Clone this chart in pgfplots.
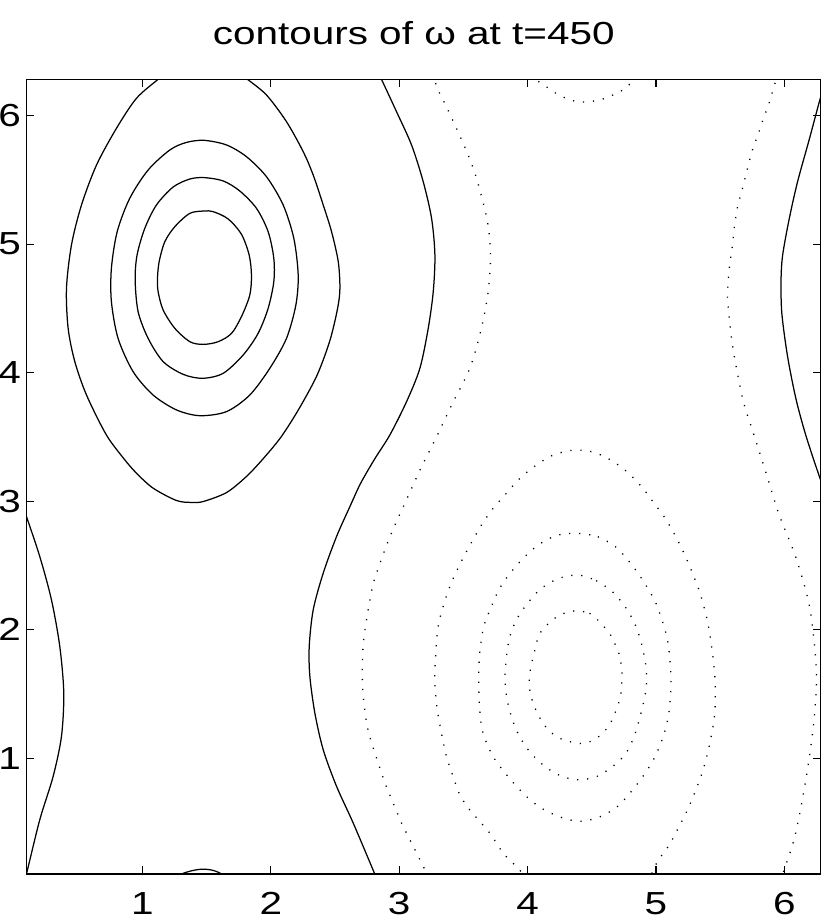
\documentclass[border=0pt]{standalone}
\usepackage{fontspec}
\setmainfont[FakeStretch=1.27]{Liberation Sans}
\usepackage{pgfplots}
\pgfplotsset{compat=1.18}

\begin{document}
\begin{tikzpicture}
\begin{axis}[
    scale only axis, width=794bp, height=794.7bp,
    xmin=0.0982, xmax=6.2832, ymin=0.0982, ymax=6.2832,
    xtick={1,2,3,4,5,6}, ytick={1,2,3,4,5,6},
    tick align=inside, major tick length=7.5bp,
    axis line style={line width=1.1bp},
    every tick/.style={line width=1.1bp, black},
    /pgf/number format/assume math mode=true,
    tick label style={font=\fontsize{32}{38}\selectfont},
    xticklabel style={anchor=base, yshift=-40.5bp},
    yticklabel style={anchor=east, inner sep=0pt, xshift=-5.5bp},
    title={contours of ω at t=450},
    title style={at={(axis description cs:0.5,1)}, anchor=base, inner sep=0pt,
                 yshift=29.3bp, xshift=-10bp, font=\fontsize{32}{38}\selectfont},
    solid/.style={black, line width=1.25bp, smooth},
    dots/.style={black, line width=1.3bp, smooth, dash pattern=on 1.2bp off 8.8bp},
]
\coordinate (bl) at (rel axis cs:0,0);

% positive levels (solid)
\addplot[solid, smooth cycle] coordinates {
 (1.481,5.258) (1.551,5.253) (1.668,5.196) (1.771,5.077) (1.831,4.916) (1.849,4.760)
 (1.836,4.604) (1.771,4.436) (1.694,4.306) (1.590,4.241) (1.473,4.220) (1.369,4.241)
 (1.252,4.345) (1.161,4.488) (1.122,4.630) (1.117,4.734) (1.130,4.864) (1.174,5.019)
 (1.252,5.136) (1.369,5.240)};
\addplot[solid, smooth cycle] coordinates {
 (1.481,5.518) (1.629,5.492) (1.758,5.414) (1.888,5.279) (1.979,5.097) (2.023,4.890)
 (2.023,4.708) (1.979,4.501) (1.901,4.306) (1.784,4.137) (1.629,3.995) (1.468,3.956)
 (1.317,3.987) (1.161,4.086) (1.044,4.267) (0.966,4.475) (0.943,4.721) (0.958,4.916)
 (1.018,5.123) (1.109,5.305) (1.239,5.445) (1.369,5.507)};
\addplot[solid, smooth cycle] coordinates {
 (1.481,5.808) (1.655,5.772) (1.810,5.681) (1.966,5.525) (2.096,5.305) (2.179,5.045)
 (2.213,4.760) (2.195,4.527) (2.122,4.267) (1.992,4.034) (1.836,3.826) (1.655,3.697)
 (1.447,3.665) (1.265,3.710) (1.083,3.826) (0.927,4.008) (0.810,4.267) (0.758,4.553)
 (0.758,4.812) (0.803,5.097) (0.901,5.357) (1.044,5.577) (1.213,5.733) (1.343,5.792)};
\addplot[solid] coordinates {
 (1.18,6.33) (1.122,6.283) (0.953,6.135) (0.797,5.901) (0.642,5.616) (0.525,5.305)
 (0.447,4.994) (0.408,4.656) (0.421,4.345) (0.473,4.086) (0.564,3.826) (0.719,3.515)
 (0.862,3.322) (0.953,3.218) (1.083,3.101) (1.265,3.005) (1.382,2.990) (1.473,2.997)
 (1.655,3.067) (1.810,3.192) (1.940,3.330) (2.080,3.500) (2.220,3.720) (2.360,3.980)
 (2.460,4.250) (2.520,4.500) (2.538,4.656) (2.525,4.864) (2.473,5.097) (2.408,5.305)
 (2.330,5.538) (2.252,5.720) (2.122,5.953) (1.966,6.161) (1.818,6.283) (1.76,6.33)};
\addplot[solid] coordinates {
 (2.84,6.33) (2.862,6.283) (2.979,6.031) (3.096,5.772) (3.187,5.486) (3.252,5.201)
 (3.278,4.916) (3.265,4.630) (3.226,4.345) (3.161,4.034) (3.057,3.774) (2.927,3.515)
 (2.810,3.330) (2.700,3.140) (2.616,2.958) (2.512,2.725) (2.408,2.440) (2.330,2.154)
 (2.299,1.869) (2.304,1.636) (2.343,1.350) (2.408,1.065) (2.512,0.780) (2.642,0.494)
 (2.810,0.097) (2.83,0.05)};
\addplot[solid] coordinates {
 (0.07,2.95) (0.096,2.881) (0.200,2.569) (0.291,2.232) (0.356,1.869) (0.387,1.506)
 (0.369,1.169) (0.304,0.857) (0.200,0.520) (0.096,0.097) (0.08,0.05)};
\addplot[solid] coordinates {
 (1.28,0.05) (1.304,0.097) (1.395,0.126) (1.473,0.136) (1.551,0.126) (1.616,0.097) (1.64,0.05)};
\addplot[solid] coordinates {
 (6.31,6.22) (6.277,6.124) (6.194,5.815) (6.103,5.486) (6.038,5.197) (5.986,4.909)
 (5.974,4.703) (5.981,4.456) (6.025,4.127) (6.090,3.798) (6.168,3.510) (6.277,3.180) (6.31,3.10)};

% negative levels (dotted)
\addplot[dots, smooth cycle] coordinates {
 (4.399,2.145) (4.482,2.127) (4.547,2.075) (4.601,2.016) (4.650,1.953) (4.684,1.881)
 (4.715,1.803) (4.731,1.712) (4.736,1.635) (4.723,1.479) (4.676,1.337) (4.637,1.259)
 (4.585,1.194) (4.526,1.148) (4.451,1.117) (4.378,1.117) (4.301,1.137) (4.231,1.163)
 (4.171,1.212) (4.119,1.272) (4.080,1.345) (4.047,1.415) (4.023,1.497) (4.013,1.570)
 (4.016,1.648) (4.028,1.725) (4.049,1.808) (4.085,1.951) (4.132,2.016) (4.192,2.075)
 (4.254,2.114) (4.326,2.140)};
\addplot[dots, smooth cycle] coordinates {
 (4.391,2.425) (4.534,2.381) (4.668,2.288) (4.772,2.161) (4.845,2.023) (4.891,1.876)
 (4.922,1.712) (4.925,1.557) (4.896,1.402) (4.839,1.194) (4.767,1.039) (4.663,0.935)
 (4.526,0.852) (4.370,0.832) (4.223,0.878) (4.098,0.966) (3.990,1.083) (3.912,1.220)
 (3.860,1.370) (3.829,1.531) (3.826,1.687) (3.855,1.920) (3.912,2.075) (3.995,2.199)
 (4.101,2.316) (4.236,2.396)};
\addplot[dots, smooth cycle] coordinates {
 (4.391,2.749) (4.547,2.723) (4.684,2.645) (4.793,2.528) (4.896,2.386) (5.000,2.205)
 (5.078,1.971) (5.104,1.816) (5.117,1.609) (5.104,1.376) (5.065,1.194) (4.987,1.000)
 (4.870,0.819) (4.715,0.637) (4.573,0.547) (4.417,0.508) (4.275,0.534) (4.119,0.604)
 (3.990,0.702) (3.847,0.857) (3.731,1.013) (3.653,1.194) (3.627,1.376) (3.619,1.609)
 (3.627,1.816) (3.658,2.023) (3.718,2.179) (3.782,2.321) (3.873,2.451) (3.977,2.567)
 (4.093,2.666) (4.236,2.736)};
\addplot[dots] coordinates {
 (3.98,0.05) (3.964,0.098) (3.873,0.197) (3.808,0.262) (3.705,0.417) (3.549,0.598)
 (3.472,0.715) (3.420,0.857) (3.368,1.013) (3.329,1.194) (3.295,1.389) (3.277,1.609)
 (3.285,1.816) (3.303,2.023) (3.342,2.179) (3.394,2.334) (3.451,2.464) (3.523,2.606)
 (3.640,2.813) (3.731,2.943) (3.834,3.060) (3.938,3.176) (4.067,3.280) (4.197,3.358)
 (4.352,3.396) (4.508,3.383) (4.650,3.319) (4.775,3.228) (4.889,3.111) (4.987,2.982)
 (5.073,2.865) (5.155,2.723) (5.225,2.580) (5.285,2.438) (5.342,2.288) (5.402,2.062)
 (5.440,1.816) (5.461,1.596) (5.459,1.363) (5.435,1.194) (5.402,1.039) (5.363,0.896)
 (5.311,0.754) (5.246,0.598) (5.181,0.469) (5.104,0.326) (5.013,0.197) (4.966,0.098) (4.95,0.05)};
\addplot[dots] coordinates {
 (3.27,6.33) (3.291,6.227) (3.361,6.083) (3.428,5.940) (3.493,5.797) (3.553,5.654)
 (3.607,5.497) (3.649,5.341) (3.685,5.190) (3.706,5.029) (3.711,4.872) (3.693,4.630)
 (3.640,4.345) (3.550,4.034) (3.407,3.746) (3.303,3.526) (3.238,3.396) (3.161,3.241)
 (3.096,3.098) (3.031,2.956) (2.966,2.813) (2.907,2.671) (2.850,2.516) (2.798,2.360)
 (2.767,2.205) (2.741,2.049) (2.720,1.894) (2.712,1.712) (2.715,1.557) (2.728,1.402)
 (2.751,1.246) (2.785,1.117) (2.837,0.961) (2.889,0.806) (2.953,0.650) (3.018,0.495)
 (3.083,0.365) (3.148,0.236) (3.212,0.106) (3.23,0.05)};
\addplot[dots] coordinates {
 (5.95,6.33) (5.936,6.279) (5.911,6.201) (5.885,6.109) (5.833,5.966) (5.794,5.849)
 (5.755,5.745) (5.716,5.602) (5.677,5.445) (5.638,5.302) (5.612,5.146) (5.594,4.977)
 (5.570,4.800) (5.558,4.580) (5.597,4.209) (5.675,3.798) (5.752,3.551) (5.857,3.221)
 (5.960,2.892) (6.090,2.562) (6.194,2.191) (6.240,1.822) (6.250,1.583) (6.231,1.298)
 (6.192,0.987) (6.140,0.676) (6.088,0.417) (6.036,0.236) (5.997,0.132) (5.98,0.05)};
\addplot[dots] coordinates {
 (4.04,6.33) (4.069,6.279) (4.134,6.234) (4.198,6.188) (4.271,6.148) (4.349,6.117)
 (4.427,6.107) (4.505,6.112) (4.580,6.128) (4.652,6.156) (4.722,6.188) (4.790,6.240)
 (4.821,6.279) (4.84,6.33)};
\end{axis}
\pgfresetboundingbox
\path ([shift={(-26.7bp,-49bp)}]bl) rectangle ++(830bp,923bp);
\end{tikzpicture}
\end{document}
